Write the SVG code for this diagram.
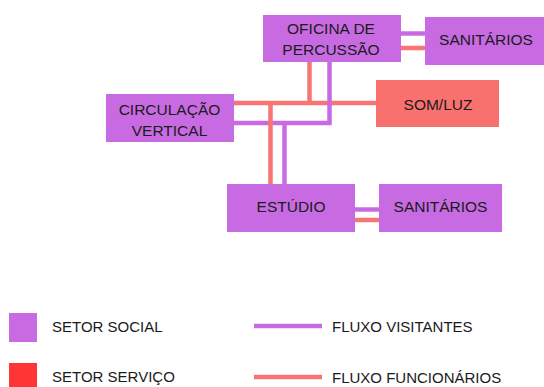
<svg xmlns="http://www.w3.org/2000/svg" width="544" height="387" viewBox="0 0 544 387">
<style>
.soc{fill:#C86BE2}
.srv{fill:#F8716E}
.t{font-family:"Liberation Sans",Arial,sans-serif;font-size:15.5px;fill:#1a1a1a;text-anchor:middle}
.lt{font-family:"Liberation Sans",Arial,sans-serif;font-size:15px;fill:#1a1a1a}
.v{stroke:#C86BE2;stroke-width:4.5;fill:none}
.f{stroke:#F87573;stroke-width:4.5;fill:none}
</style>
<rect width="544" height="387" fill="#fff"/>
<g id="connectors">
<line class="v" x1="401" y1="33.5" x2="425" y2="33.5"/>
<line class="f" x1="401" y1="48" x2="425" y2="48"/>
<line class="f" x1="234" y1="103" x2="376" y2="103"/>
<line class="f" x1="309.5" y1="62" x2="309.5" y2="103"/>
<polyline class="v" points="329.5,62 329.5,123 234,123"/>
<line class="f" x1="270.5" y1="103" x2="270.5" y2="184"/>
<line class="v" x1="284.5" y1="123" x2="284.5" y2="184"/>
<line class="v" x1="355" y1="209.5" x2="379" y2="209.5"/>
<line class="f" x1="355" y1="220" x2="379" y2="220"/>
</g>
<g id="oficina"><rect class="soc" x="263" y="15" width="138" height="47"/><text class="t" x="331" y="34">OFICINA DE</text><text class="t" x="331" y="55">PERCUSSÃO</text></g>
<g id="sanitarios1"><rect class="soc" x="425" y="17" width="119" height="48"/><text class="t" x="486" y="45">SANITÁRIOS</text></g>
<g id="somluz"><rect class="srv" x="376" y="80" width="123" height="47"/><text class="t" x="438" y="110">SOM/LUZ</text></g>
<g id="circulacao"><rect class="soc" x="106" y="94" width="128" height="48"/><text class="t" x="169.5" y="115">CIRCULAÇÃO</text><text class="t" x="169.5" y="136">VERTICAL</text></g>
<g id="estudio"><rect class="soc" x="227" y="184" width="128" height="48"/><text class="t" x="291" y="212">ESTÚDIO</text></g>
<g id="sanitarios2"><rect class="soc" x="379" y="184" width="123" height="48"/><text class="t" x="440.5" y="212">SANITÁRIOS</text></g>
<g id="legend">
<rect class="soc" x="9" y="313" width="28" height="29"/>
<text class="lt" x="52" y="332">SETOR SOCIAL</text>
<rect x="9" y="363" width="28" height="24" fill="#FF3434"/>
<text class="lt" x="52" y="382">SETOR SERVIÇO</text>
<line class="v" x1="254" y1="326" x2="322" y2="326"/>
<text class="lt" x="332" y="332">FLUXO VISITANTES</text>
<line class="f" x1="254" y1="377" x2="322" y2="377"/>
<text class="lt" x="332" y="383">FLUXO FUNCIONÁRIOS</text>
</g>
</svg>
